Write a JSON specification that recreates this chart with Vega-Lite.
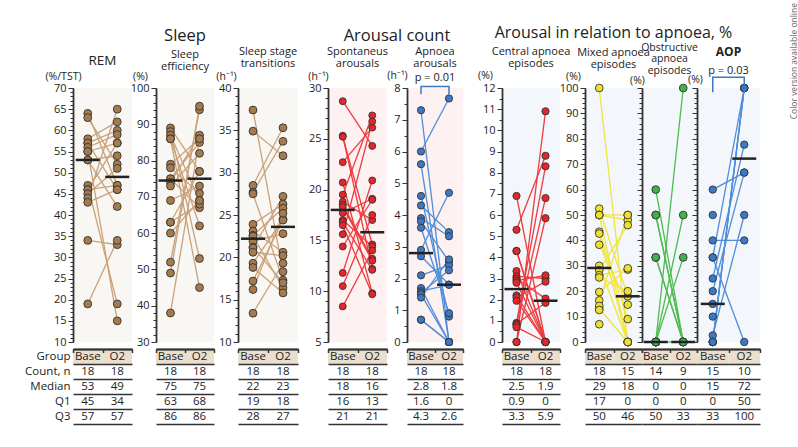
{
"$schema": "https://vega.github.io/schema/vega-lite/v6.json",
"padding": {"left": 24, "top": 3, "right": 2, "bottom": 4},
"background": "white",
"title": {"text": "Color version available online", "orient": "right", "anchor": "start", "frame": "bounds", "angle": -90, "align": "right", "dx": 22, "fontSize": 8.5, "color": "#666666", "offset": 21, "fontWeight": "normal"},
"datasets": {
"pts": [
{"panel":"REM","id":1,"group":"Base","value":64},{"panel":"REM","id":1,"group":"O2","value":47},
{"panel":"REM","id":2,"group":"Base","value":63},{"panel":"REM","id":2,"group":"O2","value":52},
{"panel":"REM","id":3,"group":"Base","value":58},{"panel":"REM","id":3,"group":"O2","value":62},
{"panel":"REM","id":4,"group":"Base","value":57},{"panel":"REM","id":4,"group":"O2","value":60},
{"panel":"REM","id":5,"group":"Base","value":57},{"panel":"REM","id":5,"group":"O2","value":46},
{"panel":"REM","id":6,"group":"Base","value":56},{"panel":"REM","id":6,"group":"O2","value":59},
{"panel":"REM","id":7,"group":"Base","value":55},{"panel":"REM","id":7,"group":"O2","value":15},
{"panel":"REM","id":8,"group":"Base","value":55},{"panel":"REM","id":8,"group":"O2","value":57},
{"panel":"REM","id":9,"group":"Base","value":53},{"panel":"REM","id":9,"group":"O2","value":54},
{"panel":"REM","id":10,"group":"Base","value":53},{"panel":"REM","id":10,"group":"O2","value":42},
{"panel":"REM","id":11,"group":"Base","value":47},{"panel":"REM","id":11,"group":"O2","value":19},
{"panel":"REM","id":12,"group":"Base","value":46},{"panel":"REM","id":12,"group":"O2","value":57},
{"panel":"REM","id":13,"group":"Base","value":46},{"panel":"REM","id":13,"group":"O2","value":47},
{"panel":"REM","id":14,"group":"Base","value":45},{"panel":"REM","id":14,"group":"O2","value":51},
{"panel":"REM","id":15,"group":"Base","value":44},{"panel":"REM","id":15,"group":"O2","value":65},
{"panel":"REM","id":16,"group":"Base","value":43},{"panel":"REM","id":16,"group":"O2","value":46},
{"panel":"REM","id":17,"group":"Base","value":34},{"panel":"REM","id":17,"group":"O2","value":33},
{"panel":"REM","id":18,"group":"Base","value":19},{"panel":"REM","id":18,"group":"O2","value":34},
{"panel":"SE","id":1,"group":"Base","value":89},{"panel":"SE","id":1,"group":"O2","value":77},
{"panel":"SE","id":2,"group":"Base","value":88},{"panel":"SE","id":2,"group":"O2","value":53},
{"panel":"SE","id":3,"group":"Base","value":87},{"panel":"SE","id":3,"group":"O2","value":69},
{"panel":"SE","id":4,"group":"Base","value":86},{"panel":"SE","id":4,"group":"O2","value":62},
{"panel":"SE","id":5,"group":"Base","value":86},{"panel":"SE","id":5,"group":"O2","value":45},
{"panel":"SE","id":6,"group":"Base","value":79},{"panel":"SE","id":6,"group":"O2","value":86},
{"panel":"SE","id":7,"group":"Base","value":78},{"panel":"SE","id":7,"group":"O2","value":71},
{"panel":"SE","id":8,"group":"Base","value":75},{"panel":"SE","id":8,"group":"O2","value":85},
{"panel":"SE","id":9,"group":"Base","value":75},{"panel":"SE","id":9,"group":"O2","value":67},
{"panel":"SE","id":10,"group":"Base","value":74},{"panel":"SE","id":10,"group":"O2","value":87},
{"panel":"SE","id":11,"group":"Base","value":73},{"panel":"SE","id":11,"group":"O2","value":82},
{"panel":"SE","id":12,"group":"Base","value":69},{"panel":"SE","id":12,"group":"O2","value":73},
{"panel":"SE","id":13,"group":"Base","value":63},{"panel":"SE","id":13,"group":"O2","value":68},
{"panel":"SE","id":14,"group":"Base","value":63},{"panel":"SE","id":14,"group":"O2","value":77},
{"panel":"SE","id":15,"group":"Base","value":60},{"panel":"SE","id":15,"group":"O2","value":69},
{"panel":"SE","id":16,"group":"Base","value":52},{"panel":"SE","id":16,"group":"O2","value":94},
{"panel":"SE","id":17,"group":"Base","value":49},{"panel":"SE","id":17,"group":"O2","value":95},
{"panel":"SE","id":18,"group":"Base","value":38},{"panel":"SE","id":18,"group":"O2","value":86},
{"panel":"SST","id":1,"group":"Base","value":37.4},{"panel":"SST","id":1,"group":"O2","value":18.3},
{"panel":"SST","id":2,"group":"Base","value":34.9},{"panel":"SST","id":2,"group":"O2","value":32},
{"panel":"SST","id":3,"group":"Base","value":28.5},{"panel":"SST","id":3,"group":"O2","value":35.3},
{"panel":"SST","id":4,"group":"Base","value":27.7},{"panel":"SST","id":4,"group":"O2","value":33.7},
{"panel":"SST","id":5,"group":"Base","value":27.5},{"panel":"SST","id":5,"group":"O2","value":17.3},
{"panel":"SST","id":6,"group":"Base","value":23.9},{"panel":"SST","id":6,"group":"O2","value":26.3},
{"panel":"SST","id":7,"group":"Base","value":23.1},{"panel":"SST","id":7,"group":"O2","value":20.6},
{"panel":"SST","id":8,"group":"Base","value":22.6},{"panel":"SST","id":8,"group":"O2","value":25.8},
{"panel":"SST","id":9,"group":"Base","value":22.5},{"panel":"SST","id":9,"group":"O2","value":16.4},
{"panel":"SST","id":10,"group":"Base","value":21.9},{"panel":"SST","id":10,"group":"O2","value":22.8},
{"panel":"SST","id":11,"group":"Base","value":21.2},{"panel":"SST","id":11,"group":"O2","value":17},
{"panel":"SST","id":12,"group":"Base","value":21.1},{"panel":"SST","id":12,"group":"O2","value":27.2},
{"panel":"SST","id":13,"group":"Base","value":20.6},{"panel":"SST","id":13,"group":"O2","value":20.2},
{"panel":"SST","id":14,"group":"Base","value":19.3},{"panel":"SST","id":14,"group":"O2","value":24.5},
{"panel":"SST","id":15,"group":"Base","value":18.8},{"panel":"SST","id":15,"group":"O2","value":15.8},
{"panel":"SST","id":16,"group":"Base","value":17.2},{"panel":"SST","id":16,"group":"O2","value":24.4},
{"panel":"SST","id":17,"group":"Base","value":16.2},{"panel":"SST","id":17,"group":"O2","value":25.2},
{"panel":"SST","id":18,"group":"Base","value":13.4},{"panel":"SST","id":18,"group":"O2","value":19.3},
{"panel":"Spont","id":1,"group":"Base","value":28.7},{"panel":"Spont","id":1,"group":"O2","value":24.3},
{"panel":"Spont","id":2,"group":"Base","value":25.3},{"panel":"Spont","id":2,"group":"O2","value":12.2},
{"panel":"Spont","id":3,"group":"Base","value":25.2},{"panel":"Spont","id":3,"group":"O2","value":14.6},
{"panel":"Spont","id":4,"group":"Base","value":22.7},{"panel":"Spont","id":4,"group":"O2","value":26.1},
{"panel":"Spont","id":5,"group":"Base","value":20.7},{"panel":"Spont","id":5,"group":"O2","value":9.8},
{"panel":"Spont","id":6,"group":"Base","value":19.5},{"panel":"Spont","id":6,"group":"O2","value":27.3},
{"panel":"Spont","id":7,"group":"Base","value":18.8},{"panel":"Spont","id":7,"group":"O2","value":17},
{"panel":"Spont","id":8,"group":"Base","value":18.5},{"panel":"Spont","id":8,"group":"O2","value":13.2},
{"panel":"Spont","id":9,"group":"Base","value":18.3},{"panel":"Spont","id":9,"group":"O2","value":13},
{"panel":"Spont","id":10,"group":"Base","value":17.7},{"panel":"Spont","id":10,"group":"O2","value":19.1},
{"panel":"Spont","id":11,"group":"Base","value":17},{"panel":"Spont","id":11,"group":"O2","value":14.4},
{"panel":"Spont","id":12,"group":"Base","value":16.8},{"panel":"Spont","id":12,"group":"O2","value":12.1},
{"panel":"Spont","id":13,"group":"Base","value":16.5},{"panel":"Spont","id":13,"group":"O2","value":9.7},
{"panel":"Spont","id":14,"group":"Base","value":15.6},{"panel":"Spont","id":14,"group":"O2","value":26.7},
{"panel":"Spont","id":15,"group":"Base","value":14.4},{"panel":"Spont","id":15,"group":"O2","value":19},
{"panel":"Spont","id":16,"group":"Base","value":11.8},{"panel":"Spont","id":16,"group":"O2","value":20.9},
{"panel":"Spont","id":17,"group":"Base","value":10.5},{"panel":"Spont","id":17,"group":"O2","value":17.5},
{"panel":"Spont","id":18,"group":"Base","value":8.5},{"panel":"Spont","id":18,"group":"O2","value":14},
{"panel":"Apnoea","id":1,"group":"Base","value":7.3},{"panel":"Apnoea","id":1,"group":"O2","value":0},
{"panel":"Apnoea","id":2,"group":"Base","value":6.0},{"panel":"Apnoea","id":2,"group":"O2","value":7.67},
{"panel":"Apnoea","id":3,"group":"Base","value":5.6},{"panel":"Apnoea","id":3,"group":"O2","value":0},
{"panel":"Apnoea","id":4,"group":"Base","value":4.6},{"panel":"Apnoea","id":4,"group":"O2","value":0.8},
{"panel":"Apnoea","id":5,"group":"Base","value":4.3},{"panel":"Apnoea","id":5,"group":"O2","value":3.46},
{"panel":"Apnoea","id":6,"group":"Base","value":3.9},{"panel":"Apnoea","id":6,"group":"O2","value":3.33},
{"panel":"Apnoea","id":7,"group":"Base","value":3.8},{"panel":"Apnoea","id":7,"group":"O2","value":2.54},
{"panel":"Apnoea","id":8,"group":"Base","value":3.6},{"panel":"Apnoea","id":8,"group":"O2","value":0.91},
{"panel":"Apnoea","id":9,"group":"Base","value":2.9},{"panel":"Apnoea","id":9,"group":"O2","value":4.7},
{"panel":"Apnoea","id":10,"group":"Base","value":2.7},{"panel":"Apnoea","id":10,"group":"O2","value":1.81},
{"panel":"Apnoea","id":11,"group":"Base","value":2.1},{"panel":"Apnoea","id":11,"group":"O2","value":2.42},
{"panel":"Apnoea","id":12,"group":"Base","value":1.7},{"panel":"Apnoea","id":12,"group":"O2","value":0},
{"panel":"Apnoea","id":13,"group":"Base","value":1.6},{"panel":"Apnoea","id":13,"group":"O2","value":1.8},
{"panel":"Apnoea","id":14,"group":"Base","value":1.55},{"panel":"Apnoea","id":14,"group":"O2","value":2.26},
{"panel":"Apnoea","id":15,"group":"Base","value":1.5},{"panel":"Apnoea","id":15,"group":"O2","value":0},
{"panel":"Apnoea","id":16,"group":"Base","value":1.4},{"panel":"Apnoea","id":16,"group":"O2","value":2.6},
{"panel":"Apnoea","id":17,"group":"Base","value":0.7},{"panel":"Apnoea","id":17,"group":"O2","value":0},
{"panel":"Apnoea","id":18,"group":"Base","value":0.7},{"panel":"Apnoea","id":18,"group":"O2","value":0},
{"panel":"Central","id":1,"group":"Base","value":6.9},{"panel":"Central","id":1,"group":"O2","value":0},
{"panel":"Central","id":2,"group":"Base","value":5.3},{"panel":"Central","id":2,"group":"O2","value":8.8},
{"panel":"Central","id":3,"group":"Base","value":4.3},{"panel":"Central","id":3,"group":"O2","value":0},
{"panel":"Central","id":4,"group":"Base","value":4.3},{"panel":"Central","id":4,"group":"O2","value":0},
{"panel":"Central","id":5,"group":"Base","value":3.35},{"panel":"Central","id":5,"group":"O2","value":0},
{"panel":"Central","id":6,"group":"Base","value":3.1},{"panel":"Central","id":6,"group":"O2","value":3.0},
{"panel":"Central","id":7,"group":"Base","value":3.0},{"panel":"Central","id":7,"group":"O2","value":2.05},
{"panel":"Central","id":8,"group":"Base","value":2.9},{"panel":"Central","id":8,"group":"O2","value":3.15},
{"panel":"Central","id":9,"group":"Base","value":2.8},{"panel":"Central","id":9,"group":"O2","value":0},
{"panel":"Central","id":10,"group":"Base","value":2.2},{"panel":"Central","id":10,"group":"O2","value":0},
{"panel":"Central","id":11,"group":"Base","value":2.1},{"panel":"Central","id":11,"group":"O2","value":2.85},
{"panel":"Central","id":12,"group":"Base","value":1.95},{"panel":"Central","id":12,"group":"O2","value":0},
{"panel":"Central","id":13,"group":"Base","value":0.9},{"panel":"Central","id":13,"group":"O2","value":8.3},
{"panel":"Central","id":14,"group":"Base","value":0.85},{"panel":"Central","id":14,"group":"O2","value":1.85},
{"panel":"Central","id":15,"group":"Base","value":0.8},{"panel":"Central","id":15,"group":"O2","value":6.8},
{"panel":"Central","id":16,"group":"Base","value":0.7},{"panel":"Central","id":16,"group":"O2","value":0},
{"panel":"Central","id":17,"group":"Base","value":0},{"panel":"Central","id":17,"group":"O2","value":10.9},
{"panel":"Central","id":18,"group":"Base","value":0},{"panel":"Central","id":18,"group":"O2","value":5.85},
{"panel":"Mixed","id":1,"group":"Base","value":100},{"panel":"Mixed","id":1,"group":"O2","value":0},
{"panel":"Mixed","id":2,"group":"Base","value":52.5},{"panel":"Mixed","id":2,"group":"O2","value":18},
{"panel":"Mixed","id":3,"group":"Base","value":50},{"panel":"Mixed","id":3,"group":"O2","value":50},
{"panel":"Mixed","id":4,"group":"Base","value":50},{"panel":"Mixed","id":4,"group":"O2","value":0},
{"panel":"Mixed","id":5,"group":"Base","value":50},{"panel":"Mixed","id":5,"group":"O2","value":48},
{"panel":"Mixed","id":6,"group":"Base","value":43.4},{"panel":"Mixed","id":6,"group":"O2","value":9},
{"panel":"Mixed","id":7,"group":"Base","value":42.7},{"panel":"Mixed","id":7,"group":"O2","value":0},
{"panel":"Mixed","id":8,"group":"Base","value":38.3},{"panel":"Mixed","id":8,"group":"O2","value":14.7},
{"panel":"Mixed","id":9,"group":"Base","value":30},{"panel":"Mixed","id":9,"group":"O2","value":0},
{"panel":"Mixed","id":10,"group":"Base","value":28.3},{"panel":"Mixed","id":10,"group":"O2","value":46},
{"panel":"Mixed","id":11,"group":"Base","value":26.3},{"panel":"Mixed","id":11,"group":"O2","value":28.5},
{"panel":"Mixed","id":12,"group":"Base","value":25.4},{"panel":"Mixed","id":12,"group":"O2","value":20},
{"panel":"Mixed","id":13,"group":"Base","value":19.7},{"panel":"Mixed","id":13,"group":"O2","value":29},
{"panel":"Mixed","id":14,"group":"Base","value":16.4},{"panel":"Mixed","id":14,"group":"O2","value":50},
{"panel":"Mixed","id":15,"group":"Base","value":13.2},{"panel":"Mixed","id":15,"group":"O2","value":0},
{"panel":"Mixed","id":16,"group":"Base","value":14.2},
{"panel":"Mixed","id":17,"group":"Base","value":12.6},
{"panel":"Mixed","id":18,"group":"Base","value":7},
{"panel":"Obs","id":1,"group":"Base","value":60},{"panel":"Obs","id":1,"group":"O2","value":0},
{"panel":"Obs","id":2,"group":"Base","value":50},{"panel":"Obs","id":2,"group":"O2","value":0},
{"panel":"Obs","id":3,"group":"Base","value":50},{"panel":"Obs","id":3,"group":"O2","value":0},
{"panel":"Obs","id":4,"group":"Base","value":33.3},{"panel":"Obs","id":4,"group":"O2","value":0},
{"panel":"Obs","id":5,"group":"Base","value":33.3},{"panel":"Obs","id":5,"group":"O2","value":0},
{"panel":"Obs","id":6,"group":"Base","value":0},{"panel":"Obs","id":6,"group":"O2","value":100},
{"panel":"Obs","id":7,"group":"Base","value":0},{"panel":"Obs","id":7,"group":"O2","value":50},
{"panel":"Obs","id":8,"group":"Base","value":0},{"panel":"Obs","id":8,"group":"O2","value":33.3},
{"panel":"Obs","id":9,"group":"Base","value":0},{"panel":"Obs","id":9,"group":"O2","value":0},
{"panel":"Obs","id":10,"group":"Base","value":0},
{"panel":"Obs","id":11,"group":"Base","value":0},
{"panel":"Obs","id":12,"group":"Base","value":0},
{"panel":"Obs","id":13,"group":"Base","value":0},
{"panel":"Obs","id":14,"group":"Base","value":0},
{"panel":"AOP","id":1,"group":"Base","value":60},{"panel":"AOP","id":1,"group":"O2","value":66.7},
{"panel":"AOP","id":2,"group":"Base","value":40},{"panel":"AOP","id":2,"group":"O2","value":40},
{"panel":"AOP","id":3,"group":"Base","value":33.3},{"panel":"AOP","id":3,"group":"O2","value":0},
{"panel":"AOP","id":4,"group":"Base","value":33.3},{"panel":"AOP","id":4,"group":"O2","value":100},
{"panel":"AOP","id":5,"group":"Base","value":25},{"panel":"AOP","id":5,"group":"O2","value":77.7},
{"panel":"AOP","id":6,"group":"Base","value":20},{"panel":"AOP","id":6,"group":"O2","value":66.7},
{"panel":"AOP","id":7,"group":"Base","value":2.6},{"panel":"AOP","id":7,"group":"O2","value":50},
{"panel":"AOP","id":8,"group":"Base","value":0},{"panel":"AOP","id":8,"group":"O2","value":100},
{"panel":"AOP","id":9,"group":"Base","value":0},{"panel":"AOP","id":9,"group":"O2","value":100},
{"panel":"AOP","id":10,"group":"Base","value":0},{"panel":"AOP","id":10,"group":"O2","value":100},
{"panel":"AOP","id":11,"group":"Base","value":50},
{"panel":"AOP","id":12,"group":"Base","value":15},
{"panel":"AOP","id":13,"group":"Base","value":10},
{"panel":"AOP","id":14,"group":"Base","value":0},
{"panel":"AOP","id":15,"group":"Base","value":0}
],
"brk": [
{"panel":"Apnoea","seq":1,"group":"Base","value":7.8},{"panel":"Apnoea","seq":2,"group":"Base","value":8.05},
{"panel":"Apnoea","seq":3,"group":"O2","value":8.05},{"panel":"Apnoea","seq":4,"group":"O2","value":7.8},
{"panel":"AOP","seq":1,"group":"Base","value":98.3},{"panel":"AOP","seq":2,"group":"Base","value":104.2},
{"panel":"AOP","seq":3,"group":"O2","value":104.2},{"panel":"AOP","seq":4,"group":"O2","value":98.3}
],
"tbl": [
{"panel":"REM","group":"Base","row":"Group","label":"Base"},{"panel":"REM","group":"O2","row":"Group","label":"O2"},
{"panel":"REM","group":"Base","row":"Count, n","label":"18"},{"panel":"REM","group":"O2","row":"Count, n","label":"18"},
{"panel":"REM","group":"Base","row":"Median","label":"53"},{"panel":"REM","group":"O2","row":"Median","label":"49"},
{"panel":"REM","group":"Base","row":"Q1","label":"45"},{"panel":"REM","group":"O2","row":"Q1","label":"34"},
{"panel":"REM","group":"Base","row":"Q3","label":"57"},{"panel":"REM","group":"O2","row":"Q3","label":"57"},
{"panel":"SE","group":"Base","row":"Group","label":"Base"},{"panel":"SE","group":"O2","row":"Group","label":"O2"},
{"panel":"SE","group":"Base","row":"Count, n","label":"18"},{"panel":"SE","group":"O2","row":"Count, n","label":"18"},
{"panel":"SE","group":"Base","row":"Median","label":"75"},{"panel":"SE","group":"O2","row":"Median","label":"75"},
{"panel":"SE","group":"Base","row":"Q1","label":"63"},{"panel":"SE","group":"O2","row":"Q1","label":"68"},
{"panel":"SE","group":"Base","row":"Q3","label":"86"},{"panel":"SE","group":"O2","row":"Q3","label":"86"},
{"panel":"SST","group":"Base","row":"Group","label":"Base"},{"panel":"SST","group":"O2","row":"Group","label":"O2"},
{"panel":"SST","group":"Base","row":"Count, n","label":"18"},{"panel":"SST","group":"O2","row":"Count, n","label":"18"},
{"panel":"SST","group":"Base","row":"Median","label":"22"},{"panel":"SST","group":"O2","row":"Median","label":"23"},
{"panel":"SST","group":"Base","row":"Q1","label":"19"},{"panel":"SST","group":"O2","row":"Q1","label":"18"},
{"panel":"SST","group":"Base","row":"Q3","label":"28"},{"panel":"SST","group":"O2","row":"Q3","label":"27"},
{"panel":"Spont","group":"Base","row":"Group","label":"Base"},{"panel":"Spont","group":"O2","row":"Group","label":"O2"},
{"panel":"Spont","group":"Base","row":"Count, n","label":"18"},{"panel":"Spont","group":"O2","row":"Count, n","label":"18"},
{"panel":"Spont","group":"Base","row":"Median","label":"18"},{"panel":"Spont","group":"O2","row":"Median","label":"16"},
{"panel":"Spont","group":"Base","row":"Q1","label":"16"},{"panel":"Spont","group":"O2","row":"Q1","label":"13"},
{"panel":"Spont","group":"Base","row":"Q3","label":"21"},{"panel":"Spont","group":"O2","row":"Q3","label":"21"},
{"panel":"Apnoea","group":"Base","row":"Group","label":"Base"},{"panel":"Apnoea","group":"O2","row":"Group","label":"O2"},
{"panel":"Apnoea","group":"Base","row":"Count, n","label":"18"},{"panel":"Apnoea","group":"O2","row":"Count, n","label":"18"},
{"panel":"Apnoea","group":"Base","row":"Median","label":"2.8"},{"panel":"Apnoea","group":"O2","row":"Median","label":"1.8"},
{"panel":"Apnoea","group":"Base","row":"Q1","label":"1.6"},{"panel":"Apnoea","group":"O2","row":"Q1","label":"0"},
{"panel":"Apnoea","group":"Base","row":"Q3","label":"4.3"},{"panel":"Apnoea","group":"O2","row":"Q3","label":"2.6"},
{"panel":"Central","group":"Base","row":"Group","label":"Base"},{"panel":"Central","group":"O2","row":"Group","label":"O2"},
{"panel":"Central","group":"Base","row":"Count, n","label":"18"},{"panel":"Central","group":"O2","row":"Count, n","label":"18"},
{"panel":"Central","group":"Base","row":"Median","label":"2.5"},{"panel":"Central","group":"O2","row":"Median","label":"1.9"},
{"panel":"Central","group":"Base","row":"Q1","label":"0.9"},{"panel":"Central","group":"O2","row":"Q1","label":"0"},
{"panel":"Central","group":"Base","row":"Q3","label":"3.3"},{"panel":"Central","group":"O2","row":"Q3","label":"5.9"},
{"panel":"Mixed","group":"Base","row":"Group","label":"Base"},{"panel":"Mixed","group":"O2","row":"Group","label":"O2"},
{"panel":"Mixed","group":"Base","row":"Count, n","label":"18"},{"panel":"Mixed","group":"O2","row":"Count, n","label":"15"},
{"panel":"Mixed","group":"Base","row":"Median","label":"29"},{"panel":"Mixed","group":"O2","row":"Median","label":"18"},
{"panel":"Mixed","group":"Base","row":"Q1","label":"17"},{"panel":"Mixed","group":"O2","row":"Q1","label":"0"},
{"panel":"Mixed","group":"Base","row":"Q3","label":"50"},{"panel":"Mixed","group":"O2","row":"Q3","label":"46"},
{"panel":"Obs","group":"Base","row":"Group","label":"Base"},{"panel":"Obs","group":"O2","row":"Group","label":"O2"},
{"panel":"Obs","group":"Base","row":"Count, n","label":"14"},{"panel":"Obs","group":"O2","row":"Count, n","label":"9"},
{"panel":"Obs","group":"Base","row":"Median","label":"0"},{"panel":"Obs","group":"O2","row":"Median","label":"0"},
{"panel":"Obs","group":"Base","row":"Q1","label":"0"},{"panel":"Obs","group":"O2","row":"Q1","label":"0"},
{"panel":"Obs","group":"Base","row":"Q3","label":"50"},{"panel":"Obs","group":"O2","row":"Q3","label":"33"},
{"panel":"AOP","group":"Base","row":"Group","label":"Base"},{"panel":"AOP","group":"O2","row":"Group","label":"O2"},
{"panel":"AOP","group":"Base","row":"Count, n","label":"15"},{"panel":"AOP","group":"O2","row":"Count, n","label":"10"},
{"panel":"AOP","group":"Base","row":"Median","label":"15"},{"panel":"AOP","group":"O2","row":"Median","label":"72"},
{"panel":"AOP","group":"Base","row":"Q1","label":"0"},{"panel":"AOP","group":"O2","row":"Q1","label":"50"},
{"panel":"AOP","group":"Base","row":"Q3","label":"33"},{"panel":"AOP","group":"O2","row":"Q3","label":"100"}
]
},
"concat": [
{"width": 59, "height": 254, "view": {"fill": "#f9f7f4"},
 "title": {"text": "REM", "fontSize": 13.5, "offset": 4},
 "data": {"name": "pts"}, "transform": [{"filter": "datum.panel === 'REM'"}],
 "encoding": {"x": {"field": "group", "type": "nominal", "scale": {"type": "point", "domain": ["Base", "O2"], "padding": 0.5}, "axis": null}},
 "layer": [
  {"mark": {"type": "line", "color": "#c9a27a", "strokeWidth": 1.3},
   "encoding": {"y": {"field": "value", "type": "quantitative", "scale": {"domain": [10, 70], "nice": false, "zero": false}, "axis": {"orient": "left", "tickCount": 12, "tickSize": 5, "labelPadding": 2, "title": "(%/TST)", "titleAngle": 0, "titleAlign": "center", "titleBaseline": "alphabetic", "titleX": -10, "titleY": -9}}, "detail": {"field": "id", "type": "nominal"}}},
  {"mark": {"type": "circle", "size": 62, "color": "#a57a4c", "opacity": 1, "stroke": "#333333", "strokeWidth": 0.9},
   "encoding": {"y": {"field": "value", "type": "quantitative", "scale": {"domain": [10, 70], "nice": false, "zero": false}, "axis": {"orient": "left", "tickCount": 60, "tickSize": 3, "labels": false, "domain": false, "title": null}}}},
  {"mark": {"type": "tick", "color": "#222222", "size": 24, "thickness": 2.5},
   "encoding": {"y": {"aggregate": "median", "field": "value", "type": "quantitative", "scale": {"domain": [10, 70], "nice": false, "zero": false}, "axis": null}}}
 ],
 "resolve": {"axis": {"y": "independent"}}},
{"width": 24, "height": 254, "data": {"values": []}, "mark": "point", "encoding": {}},
{"width": 58, "height": 254, "view": {"fill": "#f9f7f4"},
 "title": {"text": "Sleep", "fontSize": 16.5, "subtitle": ["Sleep", "efficiency"], "subtitlePadding": 5, "offset": -1},
 "data": {"name": "pts"}, "transform": [{"filter": "datum.panel === 'SE'"}],
 "encoding": {"x": {"field": "group", "type": "nominal", "scale": {"type": "point", "domain": ["Base", "O2"], "padding": 0.5}, "axis": null}},
 "layer": [
  {"mark": {"type": "line", "color": "#c9a27a", "strokeWidth": 1.3},
   "encoding": {"y": {"field": "value", "type": "quantitative", "scale": {"domain": [30, 100], "nice": false, "zero": false}, "axis": {"orient": "left", "tickCount": 7, "tickSize": 5, "labelPadding": 2, "title": "(%)", "titleAngle": 0, "titleAlign": "center", "titleBaseline": "alphabetic", "titleX": -16, "titleY": -9}}, "detail": {"field": "id", "type": "nominal"}}},
  {"mark": {"type": "circle", "size": 62, "color": "#a57a4c", "opacity": 1, "stroke": "#333333", "strokeWidth": 0.9},
   "encoding": {"y": {"field": "value", "type": "quantitative", "scale": {"domain": [30, 100], "nice": false, "zero": false}, "axis": {"orient": "left", "tickCount": 35, "tickSize": 3, "labels": false, "domain": false, "title": null}}}},
  {"mark": {"type": "tick", "color": "#222222", "size": 24, "thickness": 2.5},
   "encoding": {"y": {"aggregate": "median", "field": "value", "type": "quantitative", "scale": {"domain": [30, 100], "nice": false, "zero": false}, "axis": null}}}
 ],
 "resolve": {"axis": {"y": "independent"}}},
{"width": 24, "height": 254, "data": {"values": []}, "mark": "point", "encoding": {}},
{"width": 60, "height": 254, "view": {"fill": "#f9f7f4"},
 "title": {"text": ["Sleep stage", "transitions"], "offset": 2},
 "data": {"name": "pts"}, "transform": [{"filter": "datum.panel === 'SST'"}],
 "encoding": {"x": {"field": "group", "type": "nominal", "scale": {"type": "point", "domain": ["Base", "O2"], "padding": 0.5}, "axis": null}},
 "layer": [
  {"mark": {"type": "line", "color": "#c9a27a", "strokeWidth": 1.3},
   "encoding": {"y": {"field": "value", "type": "quantitative", "scale": {"domain": [10, 40], "nice": false, "zero": false}, "axis": {"orient": "left", "tickCount": 6, "tickSize": 5, "labelPadding": 2, "title": "(h⁻¹)", "titleAngle": 0, "titleAlign": "center", "titleBaseline": "alphabetic", "titleX": -12, "titleY": -9}}, "detail": {"field": "id", "type": "nominal"}}},
  {"mark": {"type": "circle", "size": 62, "color": "#a57a4c", "opacity": 1, "stroke": "#333333", "strokeWidth": 0.9},
   "encoding": {"y": {"field": "value", "type": "quantitative", "scale": {"domain": [10, 40], "nice": false, "zero": false}, "axis": {"orient": "left", "tickCount": 30, "tickSize": 3, "labels": false, "domain": false, "title": null}}}},
  {"mark": {"type": "tick", "color": "#222222", "size": 24, "thickness": 2.5},
   "encoding": {"y": {"aggregate": "median", "field": "value", "type": "quantitative", "scale": {"domain": [10, 40], "nice": false, "zero": false}, "axis": null}}}
 ],
 "resolve": {"axis": {"y": "independent"}}},
{"width": 30, "height": 254, "data": {"values": []}, "mark": "point", "encoding": {}},
{"width": 59, "height": 254, "view": {"fill": "#fdf1f1"},
 "title": {"text": ["Spontaneus", "arousals"], "offset": 2},
 "data": {"name": "pts"}, "transform": [{"filter": "datum.panel === 'Spont'"}],
 "encoding": {"x": {"field": "group", "type": "nominal", "scale": {"type": "point", "domain": ["Base", "O2"], "padding": 0.5}, "axis": null}},
 "layer": [
  {"mark": {"type": "line", "color": "#f03a3c", "strokeWidth": 1.3},
   "encoding": {"y": {"field": "value", "type": "quantitative", "scale": {"domain": [5, 30], "nice": false, "zero": false}, "axis": {"orient": "left", "tickCount": 5, "tickSize": 5, "labelPadding": 2, "title": "(h⁻¹)", "titleAngle": 0, "titleAlign": "center", "titleBaseline": "alphabetic", "titleX": -10, "titleY": -9}}, "detail": {"field": "id", "type": "nominal"}}},
  {"mark": {"type": "circle", "size": 48, "color": "#e3262b", "opacity": 1, "stroke": "#333333", "strokeWidth": 0.9},
   "encoding": {"y": {"field": "value", "type": "quantitative", "scale": {"domain": [5, 30], "nice": false, "zero": false}, "axis": {"orient": "left", "tickCount": 25, "tickSize": 3, "labels": false, "domain": false, "title": null}}}},
  {"mark": {"type": "tick", "color": "#222222", "size": 24, "thickness": 2.5},
   "encoding": {"y": {"aggregate": "median", "field": "value", "type": "quantitative", "scale": {"domain": [5, 30], "nice": false, "zero": false}, "axis": null}}}
 ],
 "resolve": {"axis": {"y": "independent"}}},
{"width": 20, "height": 254, "data": {"values": []}, "mark": "point", "encoding": {},
 "title": {"text": "Arousal count", "fontSize": 16.5, "offset": 44}},
{"width": 56, "height": 254, "view": {"fill": "#fdf1f1"},
 "title": {"text": ["Apnoea", "arousals"], "subtitle": "p = 0.01", "subtitlePadding": 3, "offset": -13},
 "data": {"name": "pts"}, "transform": [{"filter": "datum.panel === 'Apnoea'"}],
 "encoding": {"x": {"field": "group", "type": "nominal", "scale": {"type": "point", "domain": ["Base", "O2"], "padding": 0.5}, "axis": null}},
 "layer": [
  {"mark": {"type": "line", "color": "#4f8ddb", "strokeWidth": 1.3},
   "encoding": {"y": {"field": "value", "type": "quantitative", "scale": {"domain": [0, 8], "nice": false, "zero": false}, "axis": {"orient": "left", "tickCount": 8, "tickSize": 5, "labelPadding": 2, "title": "(h⁻¹)", "titleAngle": 0, "titleAlign": "center", "titleBaseline": "alphabetic", "titleX": -10, "titleY": -10}}, "detail": {"field": "id", "type": "nominal"}}},
  {"mark": {"type": "circle", "size": 52, "color": "#3b78c6", "opacity": 1, "stroke": "#333333", "strokeWidth": 0.9},
   "encoding": {"y": {"field": "value", "type": "quantitative", "scale": {"domain": [0, 8], "nice": false, "zero": false}, "axis": {"orient": "left", "tickCount": 16, "tickSize": 3, "labels": false, "domain": false, "title": null}}}},
  {"mark": {"type": "tick", "color": "#222222", "size": 24, "thickness": 2.5},
   "encoding": {"y": {"aggregate": "median", "field": "value", "type": "quantitative", "scale": {"domain": [0, 8], "nice": false, "zero": false}, "axis": null}}},
  {"data": {"name": "brk"}, "transform": [{"filter": "datum.panel === 'Apnoea'"}],
   "mark": {"type": "line", "color": "#3b78c6", "strokeWidth": 1.5},
   "encoding": {"y": {"field": "value", "type": "quantitative", "scale": {"domain": [0, 8], "nice": false, "zero": false}, "axis": null}, "order": {"field": "seq", "type": "quantitative"}}}
 ],
 "resolve": {"axis": {"y": "independent"}}},
{"width": 39, "height": 254, "data": {"values": []}, "mark": "point", "encoding": {}},
{"width": 58, "height": 254, "view": {"fill": "#f3f6fb"},
 "title": {"text": ["Central apnoea", "episodes"], "offset": 1},
 "data": {"name": "pts"}, "transform": [{"filter": "datum.panel === 'Central'"}],
 "encoding": {"x": {"field": "group", "type": "nominal", "scale": {"type": "point", "domain": ["Base", "O2"], "padding": 0.5}, "axis": null}},
 "layer": [
  {"mark": {"type": "line", "color": "#f03a3c", "strokeWidth": 1.3},
   "encoding": {"y": {"field": "value", "type": "quantitative", "scale": {"domain": [0, 12], "nice": false, "zero": false}, "axis": {"orient": "left", "tickCount": 12, "tickSize": 5, "labelPadding": 2, "title": "(%)", "titleAngle": 0, "titleAlign": "center", "titleBaseline": "alphabetic", "titleX": -17, "titleY": -10}}, "detail": {"field": "id", "type": "nominal"}}},
  {"mark": {"type": "circle", "size": 52, "color": "#e3262b", "opacity": 1, "stroke": "#333333", "strokeWidth": 0.9},
   "encoding": {"y": {"field": "value", "type": "quantitative", "scale": {"domain": [0, 12], "nice": false, "zero": false}, "axis": {"orient": "left", "tickCount": 24, "tickSize": 3, "labels": false, "domain": false, "title": null}}}},
  {"mark": {"type": "tick", "color": "#222222", "size": 24, "thickness": 2.5},
   "encoding": {"y": {"aggregate": "median", "field": "value", "type": "quantitative", "scale": {"domain": [0, 12], "nice": false, "zero": false}, "axis": null}}}
 ],
 "resolve": {"axis": {"y": "independent"}}},
{"width": 25, "height": 254, "data": {"values": []}, "mark": "point", "encoding": {}},
{"width": 57, "height": 254, "view": {"fill": "#f3f6fb"},
 "title": {"text": "Arousal in relation to apnoea, %", "fontSize": 16, "subtitle": ["Mixed apnoea", "episodes"], "subtitlePadding": 6, "offset": 1},
 "data": {"name": "pts"}, "transform": [{"filter": "datum.panel === 'Mixed'"}],
 "encoding": {"x": {"field": "group", "type": "nominal", "scale": {"type": "point", "domain": ["Base", "O2"], "padding": 0.5}, "axis": null}},
 "layer": [
  {"mark": {"type": "line", "color": "#f1e43c", "strokeWidth": 1.3},
   "encoding": {"y": {"field": "value", "type": "quantitative", "scale": {"domain": [0, 100], "nice": false, "zero": false}, "axis": {"orient": "left", "tickCount": 10, "tickSize": 5, "labelPadding": 2, "title": "(%)", "titleAngle": 0, "titleAlign": "center", "titleBaseline": "alphabetic", "titleX": -12, "titleY": -9}}, "detail": {"field": "id", "type": "nominal"}}},
  {"mark": {"type": "circle", "size": 60, "color": "#efe02e", "opacity": 1, "stroke": "#333333", "strokeWidth": 0.9},
   "encoding": {"y": {"field": "value", "type": "quantitative", "scale": {"domain": [0, 100], "nice": false, "zero": false}, "axis": {"orient": "left", "tickCount": 50, "tickSize": 3, "labels": false, "domain": false, "title": null}}}},
  {"mark": {"type": "tick", "color": "#222222", "size": 24, "thickness": 2.5},
   "encoding": {"y": {"aggregate": "median", "field": "value", "type": "quantitative", "scale": {"domain": [0, 100], "nice": false, "zero": false}, "axis": null}}}
 ],
 "resolve": {"axis": {"y": "independent"}}},
{"width": 55, "height": 254, "view": {"fill": "#f3f6fb"},
 "title": {"text": ["Obstructive", "apnoea", "episodes"], "offset": -1, "fontSize": 10.5, "lineHeight": 11.5},
 "data": {"name": "pts"}, "transform": [{"filter": "datum.panel === 'Obs'"}],
 "encoding": {"x": {"field": "group", "type": "nominal", "scale": {"type": "point", "domain": ["Base", "O2"], "padding": 0.5}, "axis": null}},
 "layer": [
  {"mark": {"type": "line", "color": "#4dbd4d", "strokeWidth": 1.3},
   "encoding": {"y": {"field": "value", "type": "quantitative", "scale": {"domain": [0, 100], "nice": false, "zero": false}, "axis": {"orient": "left", "tickCount": 10, "tickSize": 5, "labels": false, "title": "(%)", "titleAngle": 0, "titleAlign": "center", "titleBaseline": "alphabetic", "titleX": -5, "titleY": -5}}, "detail": {"field": "id", "type": "nominal"}}},
  {"mark": {"type": "circle", "size": 60, "color": "#3cb44b", "opacity": 1, "stroke": "#333333", "strokeWidth": 0.9},
   "encoding": {"y": {"field": "value", "type": "quantitative", "scale": {"domain": [0, 100], "nice": false, "zero": false}, "axis": {"orient": "left", "tickCount": 50, "tickSize": 3, "labels": false, "domain": false, "title": null}}}},
  {"mark": {"type": "tick", "color": "#222222", "size": 24, "thickness": 2.5},
   "encoding": {"y": {"aggregate": "median", "field": "value", "type": "quantitative", "scale": {"domain": [0, 100], "nice": false, "zero": false}, "axis": null}}}
 ],
 "resolve": {"axis": {"y": "independent"}}},
{"width": 63, "height": 254, "view": {"fill": "#f3f6fb"},
 "title": {"text": "AOP", "fontWeight": "bold", "fontSize": 12, "subtitle": "p = 0.03", "subtitlePadding": 6, "offset": -3},
 "data": {"name": "pts"}, "transform": [{"filter": "datum.panel === 'AOP'"}],
 "encoding": {"x": {"field": "group", "type": "nominal", "scale": {"type": "point", "domain": ["Base", "O2"], "padding": 0.5}, "axis": null}},
 "layer": [
  {"mark": {"type": "line", "color": "#4f8ddb", "strokeWidth": 1.3},
   "encoding": {"y": {"field": "value", "type": "quantitative", "scale": {"domain": [0, 100], "nice": false, "zero": false}, "axis": {"orient": "left", "tickCount": 10, "tickSize": 5, "labels": false, "title": "(%)", "titleAngle": 0, "titleAlign": "center", "titleBaseline": "alphabetic", "titleX": -2, "titleY": -6}}, "detail": {"field": "id", "type": "nominal"}}},
  {"mark": {"type": "circle", "size": 55, "color": "#3b78c6", "opacity": 1, "stroke": "#333333", "strokeWidth": 0.9},
   "encoding": {"y": {"field": "value", "type": "quantitative", "scale": {"domain": [0, 100], "nice": false, "zero": false}, "axis": {"orient": "left", "tickCount": 50, "tickSize": 3, "labels": false, "domain": false, "title": null}}}},
  {"mark": {"type": "tick", "color": "#222222", "size": 24, "thickness": 2.5},
   "encoding": {"y": {"aggregate": "median", "field": "value", "type": "quantitative", "scale": {"domain": [0, 100], "nice": false, "zero": false}, "axis": null}}},
  {"data": {"name": "brk"}, "transform": [{"filter": "datum.panel === 'AOP'"}],
   "mark": {"type": "line", "color": "#3b78c6", "strokeWidth": 1.5},
   "encoding": {"y": {"field": "value", "type": "quantitative", "scale": {"domain": [0, 100], "nice": false, "zero": false}, "axis": null}, "order": {"field": "seq", "type": "quantitative"}}}
 ],
 "resolve": {"axis": {"y": "independent"}}},

{"width": 59, "height": 75, "data": {"name": "tbl"}, "transform": [{"filter": "datum.panel === 'REM'"}],
 "encoding": {
  "x": {"field": "group", "type": "nominal", "scale": {"type": "band", "domain": ["Base", "O2"], "paddingInner": 0, "paddingOuter": 0}, "axis": {"orient": "top", "labels": false, "title": null, "tickBand": "extent", "tickSize": -3.5, "tickWidth": 1.5, "zindex": 1}},
  "y": {"field": "row", "type": "nominal", "scale": {"type": "band", "domain": ["Group", "Count, n", "Median", "Q1", "Q3"], "paddingInner": 0, "paddingOuter": 0}, "axis": {"title": null, "ticks": false, "domain": false, "grid": true, "gridColor": "#333333", "gridWidth": 1.3, "tickBand": "extent", "labelPadding": 3, "labelFontSize": 11.5, "zindex": 1}}},
 "layer": [
  {"transform": [{"filter": "datum.row === 'Group'"}], "mark": {"type": "rect", "color": "#eadfcf"}},
  {"mark": {"type": "text", "fontSize": 11.5, "color": "#222222"}, "encoding": {"text": {"field": "label", "type": "nominal"}}}
 ]},
{"width": 24, "height": 75, "data": {"values": []}, "mark": "point", "encoding": {}},
{"width": 58, "height": 75, "data": {"name": "tbl"}, "transform": [{"filter": "datum.panel === 'SE'"}],
 "encoding": {
  "x": {"field": "group", "type": "nominal", "scale": {"type": "band", "domain": ["Base", "O2"], "paddingInner": 0, "paddingOuter": 0}, "axis": {"orient": "top", "labels": false, "title": null, "tickBand": "extent", "tickSize": -3.5, "tickWidth": 1.5, "zindex": 1}},
  "y": {"field": "row", "type": "nominal", "scale": {"type": "band", "domain": ["Group", "Count, n", "Median", "Q1", "Q3"], "paddingInner": 0, "paddingOuter": 0}, "axis": {"title": null, "ticks": false, "domain": false, "labels": false, "grid": true, "gridColor": "#333333", "gridWidth": 1.3, "tickBand": "extent", "zindex": 1}}},
 "layer": [
  {"transform": [{"filter": "datum.row === 'Group'"}], "mark": {"type": "rect", "color": "#eadfcf"}},
  {"mark": {"type": "text", "fontSize": 11.5, "color": "#222222"}, "encoding": {"text": {"field": "label", "type": "nominal"}}}
 ]},
{"width": 24, "height": 75, "data": {"values": []}, "mark": "point", "encoding": {}},
{"width": 60, "height": 75, "data": {"name": "tbl"}, "transform": [{"filter": "datum.panel === 'SST'"}],
 "encoding": {
  "x": {"field": "group", "type": "nominal", "scale": {"type": "band", "domain": ["Base", "O2"], "paddingInner": 0, "paddingOuter": 0}, "axis": {"orient": "top", "labels": false, "title": null, "tickBand": "extent", "tickSize": -3.5, "tickWidth": 1.5, "zindex": 1}},
  "y": {"field": "row", "type": "nominal", "scale": {"type": "band", "domain": ["Group", "Count, n", "Median", "Q1", "Q3"], "paddingInner": 0, "paddingOuter": 0}, "axis": {"title": null, "ticks": false, "domain": false, "labels": false, "grid": true, "gridColor": "#333333", "gridWidth": 1.3, "tickBand": "extent", "zindex": 1}}},
 "layer": [
  {"transform": [{"filter": "datum.row === 'Group'"}], "mark": {"type": "rect", "color": "#eadfcf"}},
  {"mark": {"type": "text", "fontSize": 11.5, "color": "#222222"}, "encoding": {"text": {"field": "label", "type": "nominal"}}}
 ]},
{"width": 30, "height": 75, "data": {"values": []}, "mark": "point", "encoding": {}},
{"width": 59, "height": 75, "data": {"name": "tbl"}, "transform": [{"filter": "datum.panel === 'Spont'"}],
 "encoding": {
  "x": {"field": "group", "type": "nominal", "scale": {"type": "band", "domain": ["Base", "O2"], "paddingInner": 0, "paddingOuter": 0}, "axis": {"orient": "top", "labels": false, "title": null, "tickBand": "extent", "tickSize": -3.5, "tickWidth": 1.5, "zindex": 1}},
  "y": {"field": "row", "type": "nominal", "scale": {"type": "band", "domain": ["Group", "Count, n", "Median", "Q1", "Q3"], "paddingInner": 0, "paddingOuter": 0}, "axis": {"title": null, "ticks": false, "domain": false, "labels": false, "grid": true, "gridColor": "#333333", "gridWidth": 1.3, "tickBand": "extent", "zindex": 1}}},
 "layer": [
  {"transform": [{"filter": "datum.row === 'Group'"}], "mark": {"type": "rect", "color": "#eadfcf"}},
  {"mark": {"type": "text", "fontSize": 11.5, "color": "#222222"}, "encoding": {"text": {"field": "label", "type": "nominal"}}}
 ]},
{"width": 20, "height": 75, "data": {"values": []}, "mark": "point", "encoding": {}},
{"width": 56, "height": 75, "data": {"name": "tbl"}, "transform": [{"filter": "datum.panel === 'Apnoea'"}],
 "encoding": {
  "x": {"field": "group", "type": "nominal", "scale": {"type": "band", "domain": ["Base", "O2"], "paddingInner": 0, "paddingOuter": 0}, "axis": {"orient": "top", "labels": false, "title": null, "tickBand": "extent", "tickSize": -3.5, "tickWidth": 1.5, "zindex": 1}},
  "y": {"field": "row", "type": "nominal", "scale": {"type": "band", "domain": ["Group", "Count, n", "Median", "Q1", "Q3"], "paddingInner": 0, "paddingOuter": 0}, "axis": {"title": null, "ticks": false, "domain": false, "labels": false, "grid": true, "gridColor": "#333333", "gridWidth": 1.3, "tickBand": "extent", "zindex": 1}}},
 "layer": [
  {"transform": [{"filter": "datum.row === 'Group'"}], "mark": {"type": "rect", "color": "#eadfcf"}},
  {"mark": {"type": "text", "fontSize": 11.5, "color": "#222222"}, "encoding": {"text": {"field": "label", "type": "nominal"}}}
 ]},
{"width": 39, "height": 75, "data": {"values": []}, "mark": "point", "encoding": {}},
{"width": 58, "height": 75, "data": {"name": "tbl"}, "transform": [{"filter": "datum.panel === 'Central'"}],
 "encoding": {
  "x": {"field": "group", "type": "nominal", "scale": {"type": "band", "domain": ["Base", "O2"], "paddingInner": 0, "paddingOuter": 0}, "axis": {"orient": "top", "labels": false, "title": null, "tickBand": "extent", "tickSize": -3.5, "tickWidth": 1.5, "zindex": 1}},
  "y": {"field": "row", "type": "nominal", "scale": {"type": "band", "domain": ["Group", "Count, n", "Median", "Q1", "Q3"], "paddingInner": 0, "paddingOuter": 0}, "axis": {"title": null, "ticks": false, "domain": false, "labels": false, "grid": true, "gridColor": "#333333", "gridWidth": 1.3, "tickBand": "extent", "zindex": 1}}},
 "layer": [
  {"transform": [{"filter": "datum.row === 'Group'"}], "mark": {"type": "rect", "color": "#eadfcf"}},
  {"mark": {"type": "text", "fontSize": 11.5, "color": "#222222"}, "encoding": {"text": {"field": "label", "type": "nominal"}}}
 ]},
{"width": 25, "height": 75, "data": {"values": []}, "mark": "point", "encoding": {}},
{"width": 57, "height": 75, "data": {"name": "tbl"}, "transform": [{"filter": "datum.panel === 'Mixed'"}],
 "encoding": {
  "x": {"field": "group", "type": "nominal", "scale": {"type": "band", "domain": ["Base", "O2"], "paddingInner": 0, "paddingOuter": 0}, "axis": {"orient": "top", "labels": false, "title": null, "tickBand": "extent", "tickSize": -3.5, "tickWidth": 1.5, "zindex": 1}},
  "y": {"field": "row", "type": "nominal", "scale": {"type": "band", "domain": ["Group", "Count, n", "Median", "Q1", "Q3"], "paddingInner": 0, "paddingOuter": 0}, "axis": {"title": null, "ticks": false, "domain": false, "labels": false, "grid": true, "gridColor": "#333333", "gridWidth": 1.3, "tickBand": "extent", "zindex": 1}}},
 "layer": [
  {"transform": [{"filter": "datum.row === 'Group'"}], "mark": {"type": "rect", "color": "#eadfcf"}},
  {"mark": {"type": "text", "fontSize": 11.5, "color": "#222222"}, "encoding": {"text": {"field": "label", "type": "nominal"}}}
 ]},
{"width": 55, "height": 75, "data": {"name": "tbl"}, "transform": [{"filter": "datum.panel === 'Obs'"}],
 "encoding": {
  "x": {"field": "group", "type": "nominal", "scale": {"type": "band", "domain": ["Base", "O2"], "paddingInner": 0, "paddingOuter": 0}, "axis": {"orient": "top", "labels": false, "title": null, "tickBand": "extent", "tickSize": -3.5, "tickWidth": 1.5, "zindex": 1}},
  "y": {"field": "row", "type": "nominal", "scale": {"type": "band", "domain": ["Group", "Count, n", "Median", "Q1", "Q3"], "paddingInner": 0, "paddingOuter": 0}, "axis": {"title": null, "ticks": false, "domain": false, "labels": false, "grid": true, "gridColor": "#333333", "gridWidth": 1.3, "tickBand": "extent", "zindex": 1}}},
 "layer": [
  {"transform": [{"filter": "datum.row === 'Group'"}], "mark": {"type": "rect", "color": "#eadfcf"}},
  {"mark": {"type": "text", "fontSize": 11.5, "color": "#222222"}, "encoding": {"text": {"field": "label", "type": "nominal"}}}
 ]},
{"width": 63, "height": 75, "data": {"name": "tbl"}, "transform": [{"filter": "datum.panel === 'AOP'"}],
 "encoding": {
  "x": {"field": "group", "type": "nominal", "scale": {"type": "band", "domain": ["Base", "O2"], "paddingInner": 0, "paddingOuter": 0}, "axis": {"orient": "top", "labels": false, "title": null, "tickBand": "extent", "tickSize": -3.5, "tickWidth": 1.5, "zindex": 1}},
  "y": {"field": "row", "type": "nominal", "scale": {"type": "band", "domain": ["Group", "Count, n", "Median", "Q1", "Q3"], "paddingInner": 0, "paddingOuter": 0}, "axis": {"title": null, "ticks": false, "domain": false, "labels": false, "grid": true, "gridColor": "#333333", "gridWidth": 1.3, "tickBand": "extent", "zindex": 1}}},
 "layer": [
  {"transform": [{"filter": "datum.row === 'Group'"}], "mark": {"type": "rect", "color": "#eadfcf"}},
  {"mark": {"type": "text", "fontSize": 11.5, "color": "#222222"}, "encoding": {"text": {"field": "label", "type": "nominal"}}}
 ]}
],
"columns": 15,
"spacing": {"row": 7, "column": 0},
"bounds": "flush",
"align": "each",
"config": {
 "font": "Open Sans",
 "view": {"stroke": null},
 "axis": {"domainColor": "#333333", "domainWidth": 1.8, "tickColor": "#333333", "tickWidth": 1, "labelColor": "#222222", "labelFontSize": 11, "labelFont": "Open Sans", "titleFont": "Open Sans", "titleFontWeight": "normal", "titleFontSize": 10.5, "titleColor": "#222222", "grid": false},
 "title": {"font": "Open Sans", "fontWeight": "normal", "fontSize": 11, "color": "#222222", "subtitleFont": "Open Sans", "subtitleFontSize": 11, "subtitleColor": "#222222", "subtitleLineHeight": 12, "frame": "group", "anchor": "middle", "lineHeight": 12}
}
}
